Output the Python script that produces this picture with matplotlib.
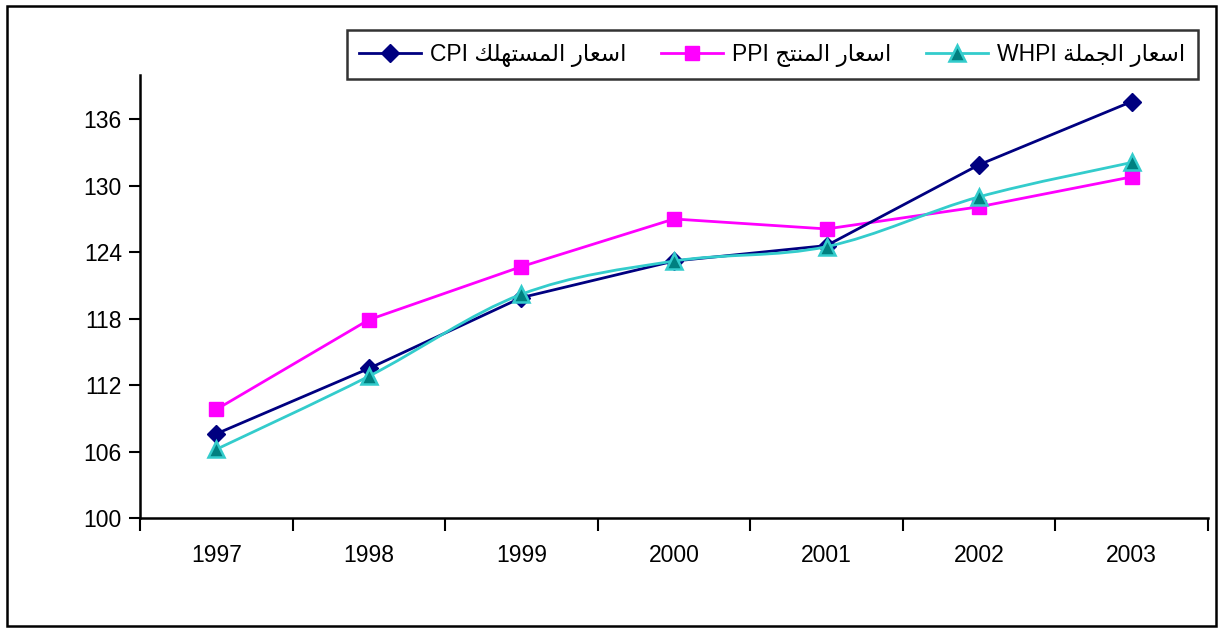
import matplotlib
matplotlib.use('Agg')
import matplotlib.pyplot as plt
from matplotlib.path import Path
from matplotlib.patches import PathPatch, Rectangle
from matplotlib.lines import Line2D

years = ['1997', '1998', '1999', '2000', '2001', '2002', '2003']
cpi = [107.6, 113.5, 119.9, 123.2, 124.6, 131.9, 137.6]
ppi = [109.8, 117.9, 122.7, 127.0, 126.1, 128.1, 130.8]
whpi = [106.2, 112.8, 120.2, 123.2, 124.5, 129.0, 132.1]
labels = ['اسعار المستهلك CPI', 'اسعار المنتج PPI', 'اسعار الجملة WHPI']

# arabic presentation forms: isolated, final, initial, medial
FORMS = {
    'ا': ('\uFE8D', '\uFE8E', None, None),
    'ر': ('\uFEAD', '\uFEAE', None, None),
    'ة': ('\uFE93', '\uFE94', None, None),
    'س': ('\uFEB1', '\uFEB2', '\uFEB3', '\uFEB4'),
    'ع': ('\uFEC9', '\uFECA', '\uFECB', '\uFECC'),
    'ل': ('\uFEDD', '\uFEDE', '\uFEDF', '\uFEE0'),
    'م': ('\uFEE1', '\uFEE2', '\uFEE3', '\uFEE4'),
    'ت': ('\uFE95', '\uFE96', '\uFE97', '\uFE98'),
    'ه': ('\uFEE9', '\uFEEA', '\uFEEB', '\uFEEC'),
    'ك': ('\uFED9', '\uFEDA', '\uFEDB', '\uFEDC'),
    'ن': ('\uFEE5', '\uFEE6', '\uFEE7', '\uFEE8'),
    'ج': ('\uFE9D', '\uFE9E', '\uFE9F', '\uFEA0'),
}


def dual(c):
    return c in FORMS and FORMS[c][2] is not None


def shape_word(w):
    out = []
    for i, c in enumerate(w):
        if c not in FORMS:
            out.append(c)
            continue
        jp = i > 0 and dual(w[i - 1])
        jn = i < len(w) - 1 and dual(c) and w[i + 1] in FORMS
        f = FORMS[c]
        if jp and jn:
            out.append(f[3])
        elif jp:
            out.append(f[1])
        elif jn:
            out.append(f[2])
        else:
            out.append(f[0])
    return ''.join(out)


def rtl(text):
    words = []
    for w in text.split(' '):
        if any(c in FORMS for c in w):
            words.append(shape_word(w)[::-1])
        else:
            words.append(w)
    return ' '.join(words[::-1])


plt.rcParams['font.family'] = ['Liberation Sans', 'DejaVu Sans']

fig = plt.figure(figsize=(12.2, 6.3), dpi=100)
ax = fig.add_axes([140 / 1220, 1 - 518 / 630, (1208 - 140) / 1220, (518 - 75) / 630])

x = list(range(1, len(years) + 1))
LW = 2.0

ax.plot(x, cpi, color='#000080', lw=LW, marker='D', ms=9.5,
        mfc='#000080', mec='#000080', zorder=4)
ax.plot(x, ppi, color='#FF00FF', lw=LW, marker='s', ms=10.5,
        mfc='#FF00FF', mec='#FF00FF', zorder=3)

# smoothed line for WHPI (catmull-rom bezier through the points)
verts = [(x[0], whpi[0])]
codes = [Path.MOVETO]
n = len(x)
for i in range(n - 1):
    p0 = (x[max(i - 1, 0)], whpi[max(i - 1, 0)])
    p1 = (x[i], whpi[i])
    p2 = (x[i + 1], whpi[i + 1])
    p3 = (x[min(i + 2, n - 1)], whpi[min(i + 2, n - 1)])
    c1 = (p1[0] + (p2[0] - p0[0]) / 6, p1[1] + (p2[1] - p0[1]) / 6)
    c2 = (p2[0] - (p3[0] - p1[0]) / 6, p2[1] - (p3[1] - p1[1]) / 6)
    verts += [c1, c2, p2]
    codes += [Path.CURVE4] * 3
ax.add_patch(PathPatch(Path(verts, codes), fc='none', ec='#33CCCC', lw=LW, zorder=5))
ax.plot(x, whpi, ls='none', marker='^', ms=11, mfc='#008080', mec='#33CCCC',
        mew=1.8, zorder=6)

ax.set_xlim(0.5, len(years) + 0.5)
ax.set_ylim(100, 140)
ax.set_yticks(range(100, 140, 6))
ax.set_xticks([i + 0.5 for i in range(len(years) + 1)])
ax.set_xticklabels([])
ax.set_xticks(x, minor=True)
ax.set_xticklabels(years, minor=True)
ax.tick_params(axis='x', which='major', direction='out', length=9, width=1.5)
ax.tick_params(axis='x', which='minor', length=0, pad=19, labelsize=16.5)
ax.tick_params(axis='y', direction='out', length=8, width=1.5, labelsize=16.5, pad=5)

for s in ['top', 'right']:
    ax.spines[s].set_visible(False)
for s in ['left', 'bottom']:
    ax.spines[s].set_linewidth(1.8)

handles = [
    Line2D([], [], color='#000080', lw=LW, marker='D', ms=9.5, mfc='#000080', mec='#000080'),
    Line2D([], [], color='#FF00FF', lw=LW, marker='s', ms=10.5, mfc='#FF00FF', mec='#FF00FF'),
    Line2D([], [], color='#33CCCC', lw=LW, marker='^', ms=11, mfc='#008080', mec='#33CCCC', mew=1.8),
]
leg = fig.legend(handles, [rtl(l) for l in labels], ncol=3, loc='upper right',
                 bbox_to_anchor=(1198 / 1220, 1 - 30 / 630), bbox_transform=fig.transFigure,
                 frameon=True, fancybox=False, fontsize=16.5, handlelength=2.7,
                 columnspacing=1.5, handletextpad=0.4, borderpad=0.55, borderaxespad=0)
leg.get_frame().set_edgecolor('black')
leg.get_frame().set_linewidth(1.8)

fig.patches.append(Rectangle((7 / 1220, 4 / 630), (1216 - 7) / 1220, (626 - 6) / 630,
                             transform=fig.transFigure, fill=False, ec='black', lw=1.8))

fig.savefig('out.png', dpi=100)
